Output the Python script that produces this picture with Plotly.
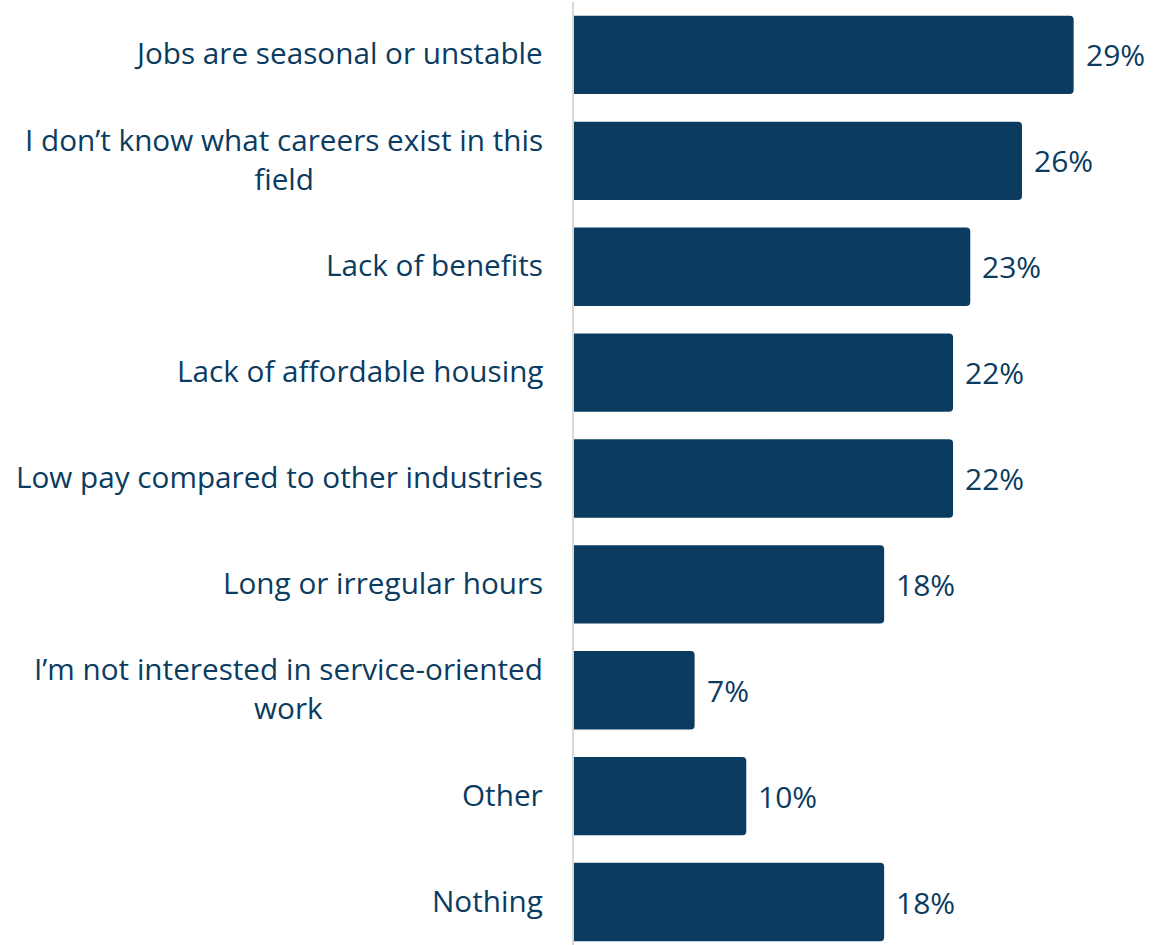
import plotly.graph_objects as go

# Survey responses: barriers to pursuing a career in the field
categories = [
    "Jobs are seasonal or unstable",
    "I don\u2019t know what careers exist in this<br>field",
    "Lack of benefits",
    "Lack of affordable housing",
    "Low pay compared to other industries",
    "Long or irregular hours",
    "I\u2019m not interested in service-oriented<br>work",
    "Other",
    "Nothing",
]
values = [29, 26, 23, 22, 22, 18, 7, 10, 18]
value_labels = ["29%", "26%", "23%", "22%", "22%", "18%", "7%", "10%", "18%"]

NAVY = "#0b3c5f"
FONT = "Open Sans"

fig = go.Figure(
    go.Bar(
        x=values,
        y=categories,
        orientation="h",
        marker=dict(color=NAVY, cornerradius=4, line=dict(width=0)),
        hoverinfo="skip",
    )
)

# Category labels: right-aligned block, lines centred within the block
for cat in categories:
    fig.add_annotation(
        x=0, xref="paper", y=cat, yref="y",
        text=cat, showarrow=False,
        xanchor="right", yanchor="middle", align="center",
        xshift=-29, yshift=2,
        font=dict(family=FONT, size=29.7, color=NAVY),
    )

# Value labels just past the end of each bar
for cat, v, lab in zip(categories, values, value_labels):
    fig.add_annotation(
        x=v, y=cat, text=lab, showarrow=False,
        xanchor="left", yanchor="middle", xshift=10, yshift=0,
        font=dict(family=FONT, size=30, color=NAVY),
    )

fig.update_layout(
    width=1171, height=945,
    margin=dict(l=574, r=0, t=2, b=0),
    paper_bgcolor="white", plot_bgcolor="white",
    bargap=0.26,
    showlegend=False,
    xaxis=dict(range=[0, 34.65], visible=False, fixedrange=True),
    yaxis=dict(
        type="category",
        range=[8.406, -0.5],
        showticklabels=False,
        showgrid=False, zeroline=False,
        showline=True, linecolor="#d9d9d9", linewidth=2,
        ticks="",
    ),
)

fig.write_html("out.html")
